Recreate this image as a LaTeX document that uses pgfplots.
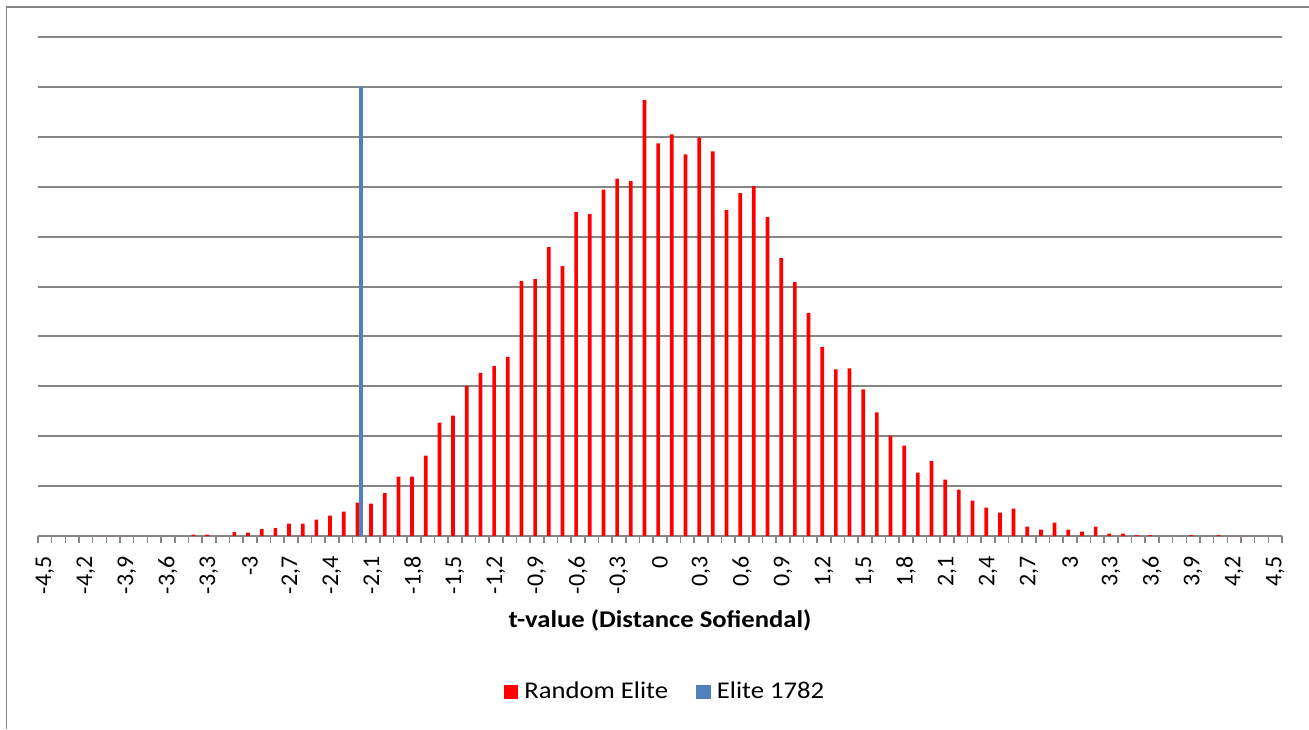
\documentclass[border=0pt]{standalone}
\usepackage{fontspec}
\setmainfont{Carlito}
\usepackage{graphicx}
\usepackage{pgfplots}
\usepackage{pgfplotstable}
\pgfplotsset{compat=1.18}

\definecolor{gridgray}{RGB}{134,134,134}
\definecolor{exred}{RGB}{255,0,0}
\definecolor{exblue}{RGB}{79,129,189}

% share of random elites per t-value bin (gridline step = 10)
\pgfplotstableread{
t    val
-4.5 0
-4.4 0
-4.3 0
-4.2 0
-4.1 0
-4.0 0
-3.9 0
-3.8 0
-3.7 0
-3.6 0
-3.5 0
-3.4 0.3
-3.3 0.3
-3.2 0
-3.1 0.8
-3.0 0.7
-2.9 1.4
-2.8 1.6
-2.7 2.5
-2.6 2.5
-2.5 3.3
-2.4 4.1
-2.3 4.9
-2.2 6.7
-2.1 6.5
-2.0 8.6
-1.9 11.9
-1.8 11.9
-1.7 16.1
-1.6 22.7
-1.5 24.1
-1.4 30.1
-1.3 32.7
-1.2 34.1
-1.1 35.9
-1.0 51.1
-0.9 51.5
-0.8 57.9
-0.7 54.1
-0.6 64.9
-0.5 64.5
-0.4 69.4
-0.3 71.6
-0.2 71.1
-0.1 87.4
0.0  78.7
0.1  80.5
0.2  76.5
0.3  79.9
0.4  77.1
0.5  65.3
0.6  68.7
0.7  70.1
0.8  63.9
0.9  55.7
1.0  50.9
1.1  44.7
1.2  37.9
1.3  33.4
1.4  33.6
1.5  29.4
1.6  24.8
1.7  20.1
1.8  18.1
1.9  12.7
2.0  15.0
2.1  11.3
2.2  9.3
2.3  7.1
2.4  5.7
2.5  4.7
2.6  5.5
2.7  1.9
2.8  1.3
2.9  2.7
3.0  1.3
3.1  0.9
3.2  1.9
3.3  0.5
3.4  0.5
3.5  0.2
3.6  0.2
3.7  0
3.8  0
3.9  0.2
4.0  0
4.1  0.2
4.2  0
4.3  0
4.4  0
4.5  0
}\randomtab

% the original picture is a little wider than tall
\newcommand{\wide}[1]{\scalebox{1.11}[1]{#1}}

\begin{document}
\begin{tikzpicture}
\useasboundingbox (0,0) rectangle (654.5pt,364.5pt);
\draw[gridgray, line width=0.7pt] (3.25pt,0) -- (3.25pt,361pt) -- (654.5pt,361pt);
\begin{axis}[
    at={(19pt,96.5pt)}, anchor=south west,
    scale only axis,
    width=622pt, height=249.5pt,
    xmin=-4.55, xmax=4.55,
    ymin=0, ymax=100,
    axis x line*=bottom,
    axis y line*=left,
    x axis line style={gridgray, line width=1pt},
    y axis line style={draw=none},
    ybar=0pt, bar width=1.85pt,
    xtick={-4.5,-4.2,-3.9,-3.6,-3.3,-3,-2.7,-2.4,-2.1,-1.8,-1.5,-1.2,-0.9,-0.6,-0.3,0,0.3,0.6,0.9,1.2,1.5,1.8,2.1,2.4,2.7,3,3.3,3.6,3.9,4.2,4.5},
    xticklabels={{-4,5},{-4,2},{-3,9},{-3,6},{-3,3},{-3},{-2,7},{-2,4},{-2,1},{-1,8},{-1,5},{-1,2},{-0,9},{-0,6},{-0,3},{0},{0,3},{0,6},{0,9},{1,2},{1,5},{1,8},{2,1},{2,4},{2,7},{3},{3,3},{3,6},{3,9},{4,2},{4,5}},
    minor xtick={-4.55,-4.45,...,4.56},
    xtick align=outside,
    major tick length=0pt,
    minor tick length=3.4pt,
    minor tick style={gridgray, line width=0.8pt},
    ytick={0,10,...,100},
    yticklabels={},
    ytick style={draw=none},
    ymajorgrids=true,
    grid style={gridgray, line width=1pt},
    xticklabel style={rotate=90, anchor=east, xshift=-10pt, font=\fontsize{12}{14}\selectfont, inner sep=0pt},
    xlabel={\wide{t-value (Distance Sofiendal)}},
    xlabel style={font=\fontsize{12}{14}\selectfont\bfseries, at={(axis description cs:0.5,0)}, anchor=center, yshift=-42pt},
    legend style={at={(axis description cs:0.5055,0)}, anchor=center, yshift=-78pt,
        draw=none, fill=none, font=\fontsize{12}{14}\selectfont,
        nodes={inner xsep=3pt},
        /tikz/every even column/.append style={column sep=11pt}},
    legend columns=2,
    legend image code/.code={\fill[#1] (0pt,-3.5pt) rectangle (7.4pt,3.5pt);},
]
\addplot[fill=exred, draw=none] table[x=t, y=val] {\randomtab};
\addlegendentry{\wide{Random Elite}}
\addplot[fill=exblue, draw=none] coordinates {(-2.2,90)};
\addlegendentry{\wide{Elite 1782}}
\end{axis}
\end{tikzpicture}
\end{document}
